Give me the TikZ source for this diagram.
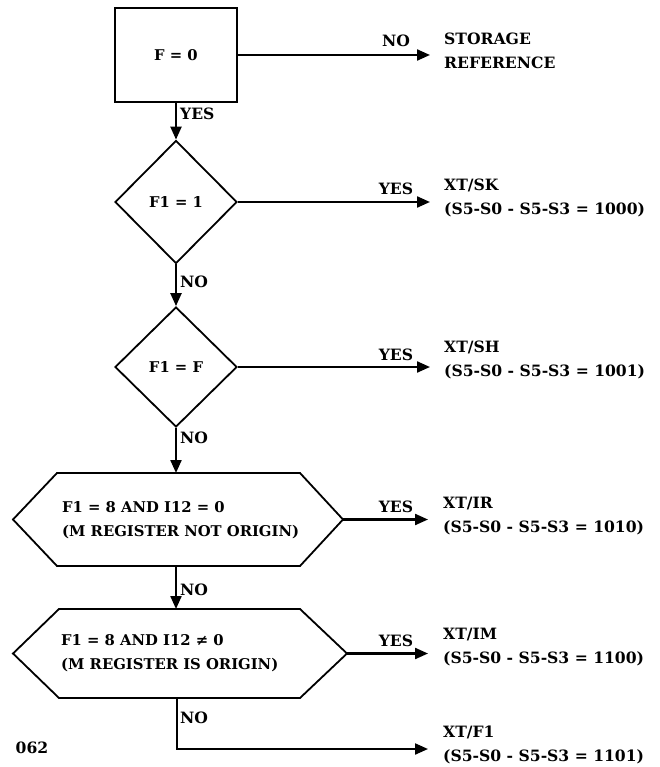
\documentclass[tikz,border=0pt]{standalone}
\usepackage{fontspec}
\setmainfont{DejaVu Serif}
\usetikzlibrary{arrows.meta,shapes.geometric,calc}
\begin{document}
\begin{tikzpicture}[x=1pt,y=-1pt,
  txt/.style={font=\bfseries\fontsize{14.8}{24}\selectfont, inner sep=0pt},
  bigtxt/.style={font=\bfseries\fontsize{15.6}{23.5}\selectfont, inner sep=0pt},
  box/.style={draw, line width=1.8pt, minimum width=122pt, minimum height=94pt, inner sep=0pt, txt},
  dec/.style={diamond, draw, line width=1.8pt, inner sep=0pt, minimum width=122pt, txt},
  hexbase/.style={inner sep=0pt, outer sep=0pt},
  hexline/.style={line width=1.8pt, line join=miter},
  conn/.style={line width=2.2pt, -{Triangle[length=13pt,width=11pt]}},
  lbl/.style={bigtxt, anchor=west},
  outtxt/.style={bigtxt, align=left, anchor=west},
  intxt/.style={txt, align=left, anchor=west},
]
\fill[white] (0,0) rectangle (659,767);
\useasboundingbox (0,0) rectangle (659,767);

% decision shapes
\node[box] (b0) at (176,55) {F = 0};
\node[dec, minimum height=123pt] (d1) at (176,202) {F1 = 1};
\node[dec, minimum height=120pt] (d2) at (176,367) {F1 = F};

\node[hexbase, minimum width=330pt, minimum height=93pt] (h1) at (178,519.5) {};
\draw[hexline] (h1.west) -- ([xshift=44pt]h1.north west) -- ([xshift=-43pt]h1.north east)
  -- (h1.east) -- ([xshift=-43pt]h1.south east) -- ([xshift=44pt]h1.south west) -- cycle;
\node[intxt] (h1t) at (62,520) {F1 = 8 AND I12 = 0\\(M REGISTER NOT ORIGIN)};

\node[hexbase, minimum width=334pt, minimum height=89pt] (h2) at (180,653.5) {};
\draw[hexline] (h2.west) -- ([xshift=46pt]h2.north west) -- ([xshift=-47pt]h2.north east)
  -- (h2.east) -- ([xshift=-47pt]h2.south east) -- ([xshift=46pt]h2.south west) -- cycle;
\node[intxt] (h2t) at (61,653) {F1 = 8 AND I12 ≠ 0\\(M REGISTER IS ORIGIN)};

% outcomes
\node[outtxt] (t0) at (444,51) {STORAGE\\REFERENCE};
\node[outtxt] (t1) at (444,198) {XT/SK\\(S5-S0 - S5-S3 = 1000)};
\node[outtxt] (t2) at (444,360) {XT/SH\\(S5-S0 - S5-S3 = 1001)};
\node[outtxt] (t3) at (443,516) {XT/IR\\(S5-S0 - S5-S3 = 1010)};
\node[outtxt] (t4) at (443,647) {XT/IM\\(S5-S0 - S5-S3 = 1100)};
\node[outtxt] (t5) at (443,745) {XT/F1\\(S5-S0 - S5-S3 = 1101)};

% labels
\node[bigtxt] (n0) at (396,41) {NO};
\node[lbl] (y0) at (180,114) {YES};
\node[bigtxt] (y1) at (396,189) {YES};
\node[lbl] (n1) at (180,282) {NO};
\node[bigtxt] (y2) at (396,355) {YES};
\node[lbl] (n2) at (180,438) {NO};
\node[bigtxt] (y3) at (396,507) {YES};
\node[lbl] (n3) at (180,590) {NO};
\node[bigtxt] (y4) at (396,641) {YES};
\node[lbl] (n4) at (180,718) {NO};
\node[bigtxt] (pg) at (32,748) {062};

% connectors
\draw[conn, shorten >=14pt] (b0.east) -- (b0.east -| t0.west);
\draw[conn] (b0.south) -- (d1.north);
\draw[conn, shorten >=14pt] (d1.east) -- (d1.east -| t1.west);
\draw[conn] (d1.south) -- (d2.north);
\draw[conn, shorten >=14pt] (d2.east) -- (d2.east -| t2.west);
\draw[conn] (d2.south) -- (d2.south |- h1.north);
\draw[conn, shorten >=15pt] (h1.east) -- (h1.east -| t3.west);
\draw[conn] (d2.south |- h1.south) -- (d2.south |- h2.north);
\draw[conn, shorten >=15pt] (h2.east) -- (h2.east -| t4.west);
\coordinate (c5) at (177,749);
\draw[conn, shorten >=15pt] (c5 |- h2.south) -- (c5) -- (c5 -| t5.west);
\end{tikzpicture}
\end{document}
